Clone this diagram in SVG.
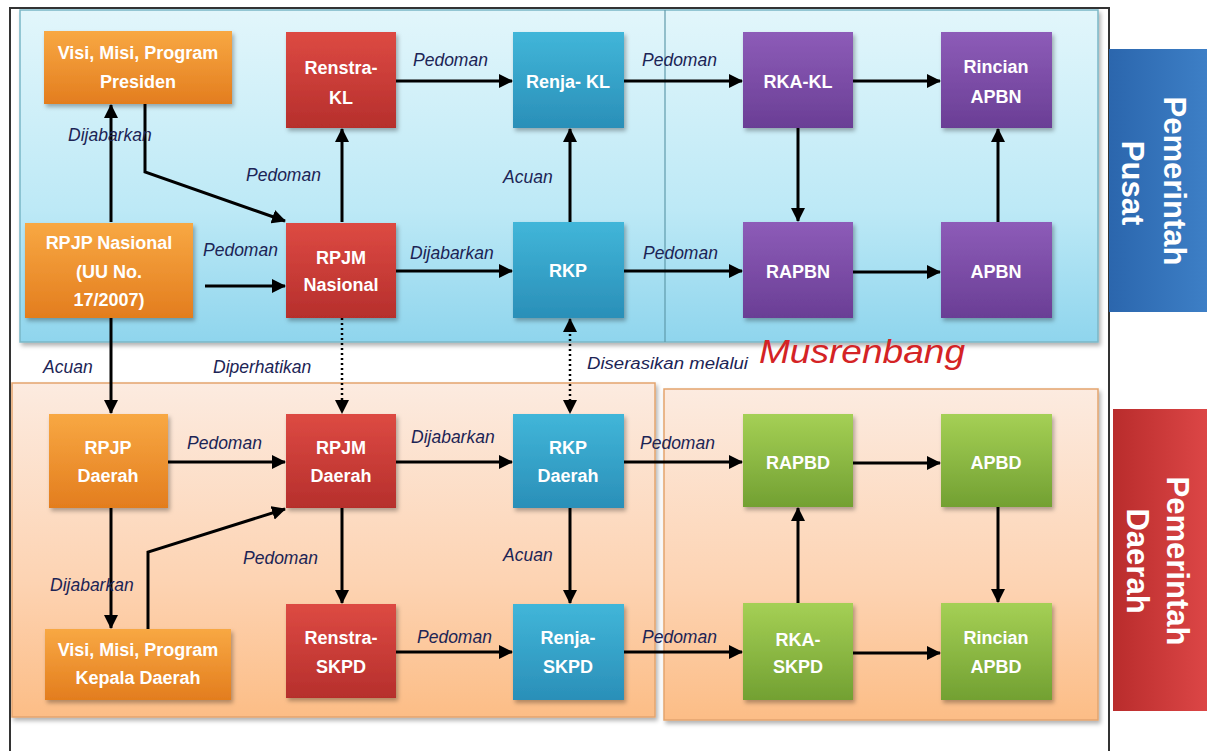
<svg xmlns="http://www.w3.org/2000/svg" width="1208" height="751" viewBox="0 0 1208 751">
<defs>
<linearGradient id="gBlue" x1="0" y1="0" x2="0" y2="1"><stop offset="0" stop-color="#e2f6fb"/><stop offset="0.6" stop-color="#bde9f6"/><stop offset="1" stop-color="#8fd5ed"/></linearGradient>
<linearGradient id="gPeach" x1="0" y1="0" x2="0" y2="1"><stop offset="0" stop-color="#fcebe0"/><stop offset="0.6" stop-color="#fdd3b2"/><stop offset="1" stop-color="#fcbd86"/></linearGradient>
<linearGradient id="gOr" x1="0" y1="0" x2="0" y2="1"><stop offset="0" stop-color="#f8a843"/><stop offset="1" stop-color="#e37d1e"/></linearGradient>
<linearGradient id="gRd" x1="0" y1="0" x2="0" y2="1"><stop offset="0" stop-color="#dd4a43"/><stop offset="1" stop-color="#b62f2c"/></linearGradient>
<linearGradient id="gTl" x1="0" y1="0" x2="0" y2="1"><stop offset="0" stop-color="#41b6d9"/><stop offset="1" stop-color="#2a8fb8"/></linearGradient>
<linearGradient id="gPu" x1="0" y1="0" x2="0" y2="1"><stop offset="0" stop-color="#8d5cb8"/><stop offset="1" stop-color="#6a3e95"/></linearGradient>
<linearGradient id="gGr" x1="0" y1="0" x2="0" y2="1"><stop offset="0" stop-color="#a5d055"/><stop offset="1" stop-color="#72a032"/></linearGradient>
<linearGradient id="gSideB" x1="0" y1="0" x2="1" y2="0"><stop offset="0" stop-color="#2b66ad"/><stop offset="1" stop-color="#3d7fc6"/></linearGradient>
<linearGradient id="gSideR" x1="0" y1="0" x2="1" y2="0"><stop offset="0" stop-color="#b92c2c"/><stop offset="1" stop-color="#dc4646"/></linearGradient>
<filter id="sh" x="-10%" y="-10%" width="130%" height="130%"><feDropShadow dx="2" dy="3" stdDeviation="2" flood-color="#000" flood-opacity="0.3"/></filter>
<marker id="ar" viewBox="0 0 14 14" refX="13" refY="7" markerWidth="14" markerHeight="14" markerUnits="userSpaceOnUse" orient="auto-start-reverse"><path d="M0,0 L14,7 L0,14 z" fill="#000"/></marker>
<style>
.nt{font-family:"Liberation Sans",Arial,sans-serif;font-weight:bold;font-size:18px;fill:#fff;text-anchor:middle;}
.lb{font-family:"Liberation Sans",Arial,sans-serif;font-style:italic;font-size:17.5px;fill:#1c2455;}
.ln{fill:none;stroke:#000;stroke-width:3;marker-end:url(#ar);}
.dt{fill:none;stroke:#000;stroke-width:2.5;stroke-dasharray:2 3;marker-end:url(#ar);}
.side{font-family:"Liberation Sans",Arial,sans-serif;font-weight:bold;font-size:31px;fill:#fff;text-anchor:middle;}
</style>
</defs>
<rect width="1208" height="751" fill="#ffffff"/>
<!-- outer frame -->
<path d="M10,751 V8 H1109 V751" fill="none" stroke="#333" stroke-width="2"/>
<!-- panels -->
<g id="panel-pusat">
<rect x="20" y="10" width="1078" height="332" fill="url(#gBlue)" stroke="#7ab6c6" stroke-width="1.5" filter="url(#sh)"/>
<line x1="665" y1="10" x2="665" y2="342" stroke="#5f9aab" stroke-width="1.2"/>
</g>
<g id="panel-daerah">
<rect x="12" y="383" width="643" height="334" fill="url(#gPeach)" stroke="#e3a46e" stroke-width="1.5" filter="url(#sh)"/>
<rect x="664" y="389" width="434" height="331" fill="url(#gPeach)" stroke="#e3a46e" stroke-width="1.5" filter="url(#sh)"/>
</g>
<!-- side labels -->
<g id="side-pusat">
<rect x="1109" y="49" width="98" height="263" fill="url(#gSideB)"/>
<g transform="translate(1158,181) rotate(90)"><text class="side" x="0" y="-6">Pemerintah</text><text class="side" x="2" y="36">Pusat</text></g>
</g>
<g id="side-daerah">
<rect x="1113" y="409" width="94" height="302" fill="url(#gSideR)"/>
<g transform="translate(1160,561) rotate(90)"><text class="side" x="0" y="-7">Pemerintah</text><text class="side" x="0" y="33">Daerah</text></g>
</g>
<!-- connectors -->
<g id="connectors">
<path class="ln" d="M111,222 V105"/>
<path class="ln" d="M145,104 V172 L285,221"/>
<path class="ln" d="M342,222 V129"/>
<path class="ln" d="M396,81 H512"/>
<path class="ln" d="M624,81 H742"/>
<path class="ln" d="M853,81 H940"/>
<path class="ln" d="M798,128 V221"/>
<path class="ln" d="M998,222 V129"/>
<path class="ln" d="M853,272 H940"/>
<path class="ln" d="M570,222 V129"/>
<path class="ln" d="M205,286 H285"/>
<path class="ln" d="M396,271 H512"/>
<path class="ln" d="M624,271 H742"/>
<path class="ln" d="M111,318 V413"/>
<path class="dt" d="M342,318 V413"/>
<path class="dt" d="M570,319 V413" style="marker-start:url(#ar)"/>
<path class="ln" d="M168,462 H285"/>
<path class="ln" d="M396,462 H512"/>
<path class="ln" d="M624,462 H742"/>
<path class="ln" d="M111,508 V628"/>
<path class="ln" d="M148,629 V552 L285,509"/>
<path class="ln" d="M342,508 V603"/>
<path class="ln" d="M570,508 V603"/>
<path class="ln" d="M396,652 H512"/>
<path class="ln" d="M624,652 H742"/>
<path class="ln" d="M798,603 V508"/>
<path class="ln" d="M853,463 H940"/>
<path class="ln" d="M998,507 V602"/>
<path class="ln" d="M853,653 H940"/>
</g>
<!-- connector labels -->
<g id="labels">
<text class="lb" x="68" y="141">Dijabarkan</text>
<text class="lb" x="246" y="181">Pedoman</text>
<text class="lb" x="413" y="66">Pedoman</text>
<text class="lb" x="642" y="66">Pedoman</text>
<text class="lb" x="503" y="183">Acuan</text>
<text class="lb" x="203" y="256">Pedoman</text>
<text class="lb" x="410" y="259">Dijabarkan</text>
<text class="lb" x="643" y="259">Pedoman</text>
<text class="lb" x="43" y="373">Acuan</text>
<text class="lb" x="213" y="373">Diperhatikan</text>
<text class="lb" x="587" y="369" style="font-size:16px" textLength="161" lengthAdjust="spacingAndGlyphs">Diserasikan melalui</text>
<text x="759" y="363" style="font-family:'Liberation Sans',Arial,sans-serif;font-style:italic;font-size:34px;fill:#d42325" textLength="206" lengthAdjust="spacingAndGlyphs">Musrenbang</text>
<text class="lb" x="187" y="449">Pedoman</text>
<text class="lb" x="411" y="443">Dijabarkan</text>
<text class="lb" x="640" y="449">Pedoman</text>
<text class="lb" x="243" y="564">Pedoman</text>
<text class="lb" x="50" y="591">Dijabarkan</text>
<text class="lb" x="503" y="561">Acuan</text>
<text class="lb" x="417" y="643">Pedoman</text>
<text class="lb" x="642" y="643">Pedoman</text>
</g>
<!-- nodes -->
<g id="visi-presiden"><rect x="44" y="31" width="188" height="73" fill="url(#gOr)" filter="url(#sh)"/><text class="nt" x="138" y="59">Visi, Misi, Program</text><text class="nt" x="138" y="88">Presiden</text></g>
<g id="renstra-kl"><rect x="286" y="32" width="110" height="96" fill="url(#gRd)" filter="url(#sh)"/><text class="nt" x="341" y="74">Renstra-</text><text class="nt" x="341" y="104">KL</text></g>
<g id="renja-kl"><rect x="513" y="32" width="111" height="96" fill="url(#gTl)" filter="url(#sh)"/><text class="nt" x="568" y="88">Renja- KL</text></g>
<g id="rka-kl"><rect x="743" y="32" width="110" height="96" fill="url(#gPu)" filter="url(#sh)"/><text class="nt" x="798" y="88">RKA-KL</text></g>
<g id="rincian-apbn"><rect x="941" y="32" width="111" height="96" fill="url(#gPu)" filter="url(#sh)"/><text class="nt" x="996" y="73">Rincian</text><text class="nt" x="996" y="103">APBN</text></g>
<g id="rpjp-nasional"><rect x="25" y="223" width="168" height="95" fill="url(#gOr)" filter="url(#sh)"/><text class="nt" x="109" y="249">RPJP Nasional</text><text class="nt" x="109" y="278">(UU No.</text><text class="nt" x="109" y="306">17/2007)</text></g>
<g id="rpjm-nasional"><rect x="286" y="223" width="110" height="95" fill="url(#gRd)" filter="url(#sh)"/><text class="nt" x="341" y="264">RPJM</text><text class="nt" x="341" y="291">Nasional</text></g>
<g id="rkp"><rect x="513" y="222" width="111" height="96" fill="url(#gTl)" filter="url(#sh)"/><text class="nt" x="568" y="277">RKP</text></g>
<g id="rapbn"><rect x="743" y="222" width="110" height="96" fill="url(#gPu)" filter="url(#sh)"/><text class="nt" x="798" y="278">RAPBN</text></g>
<g id="apbn"><rect x="941" y="222" width="111" height="96" fill="url(#gPu)" filter="url(#sh)"/><text class="nt" x="996" y="278">APBN</text></g>
<g id="rpjp-daerah"><rect x="49" y="414" width="119" height="94" fill="url(#gOr)" filter="url(#sh)"/><text class="nt" x="108" y="454">RPJP</text><text class="nt" x="108" y="482">Daerah</text></g>
<g id="rpjm-daerah"><rect x="286" y="414" width="110" height="94" fill="url(#gRd)" filter="url(#sh)"/><text class="nt" x="341" y="454">RPJM</text><text class="nt" x="341" y="482">Daerah</text></g>
<g id="rkp-daerah"><rect x="513" y="414" width="111" height="94" fill="url(#gTl)" filter="url(#sh)"/><text class="nt" x="568" y="454">RKP</text><text class="nt" x="568" y="482">Daerah</text></g>
<g id="rapbd"><rect x="743" y="414" width="110" height="93" fill="url(#gGr)" filter="url(#sh)"/><text class="nt" x="798" y="469">RAPBD</text></g>
<g id="apbd"><rect x="941" y="414" width="111" height="93" fill="url(#gGr)" filter="url(#sh)"/><text class="nt" x="996" y="469">APBD</text></g>
<g id="visi-kepala-daerah"><rect x="45" y="629" width="186" height="71" fill="url(#gOr)" filter="url(#sh)"/><text class="nt" x="138" y="656">Visi, Misi, Program</text><text class="nt" x="138" y="684">Kepala Daerah</text></g>
<g id="renstra-skpd"><rect x="286" y="604" width="110" height="94" fill="url(#gRd)" filter="url(#sh)"/><text class="nt" x="341" y="644">Renstra-</text><text class="nt" x="341" y="673">SKPD</text></g>
<g id="renja-skpd"><rect x="513" y="604" width="111" height="96" fill="url(#gTl)" filter="url(#sh)"/><text class="nt" x="568" y="644">Renja-</text><text class="nt" x="568" y="673">SKPD</text></g>
<g id="rka-skpd"><rect x="743" y="603" width="110" height="97" fill="url(#gGr)" filter="url(#sh)"/><text class="nt" x="798" y="646">RKA-</text><text class="nt" x="798" y="673">SKPD</text></g>
<g id="rincian-apbd"><rect x="941" y="603" width="111" height="97" fill="url(#gGr)" filter="url(#sh)"/><text class="nt" x="996" y="644">Rincian</text><text class="nt" x="996" y="673">APBD</text></g>
</svg>
